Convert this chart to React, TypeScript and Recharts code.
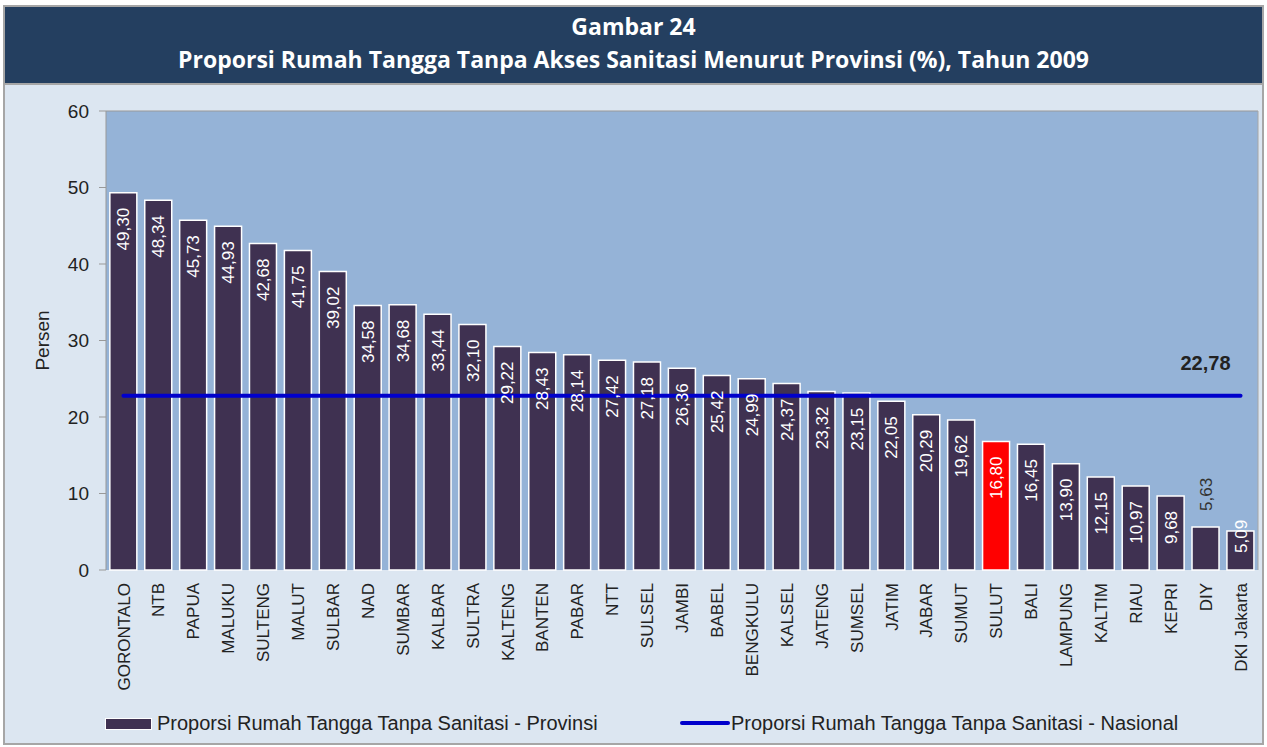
import React from 'react';
import {
  ComposedChart,
  Bar,
  Line,
  Cell,
  XAxis,
  YAxis,
  CartesianGrid,
  ReferenceLine,
  LabelList,
  Legend,
} from 'recharts';

const CATEGORIES = [
  'GORONTALO', 'NTB', 'PAPUA', 'MALUKU', 'SULTENG', 'MALUT', 'SULBAR', 'NAD', 'SUMBAR',
  'KALBAR', 'SULTRA', 'KALTENG', 'BANTEN', 'PABAR', 'NTT', 'SULSEL', 'JAMBI', 'BABEL',
  'BENGKULU', 'KALSEL', 'JATENG', 'SUMSEL', 'JATIM', 'JABAR', 'SUMUT', 'SULUT', 'BALI',
  'LAMPUNG', 'KALTIM', 'RIAU', 'KEPRI', 'DIY', 'DKI Jakarta',
];

const PROVINSI = [
  49.3, 48.34, 45.73, 44.93, 42.68, 41.75, 39.02, 34.58, 34.68,
  33.44, 32.1, 29.22, 28.43, 28.14, 27.42, 27.18, 26.36, 25.42,
  24.99, 24.37, 23.32, 23.15, 22.05, 20.29, 19.62, 16.8, 16.45,
  13.9, 12.15, 10.97, 9.68, 5.63, 5.09,
];

const NASIONAL = 22.78;
const HIGHLIGHT = 'SULUT';
const LABEL_ABOVE = 'DIY';
const Y_TICKS = [0, 10, 20, 30, 40, 50, 60];
const EDGE_TICKS = CATEGORIES.map((_, i) => i).concat(CATEGORIES.length);

const data = CATEGORIES.map((name, i) => ({
  name,
  provinsi: PROVINSI[i],
  nasional: NASIONAL,
}));

const FONT = '"Liberation Sans", Arial, sans-serif';
const BAR_COLOR = '#3F3151';
const LINE_COLOR = '#0000CC';
const AXIS_COLOR = '#999999';

const fmt = (v: number) => v.toFixed(2).replace('.', ',');

const CategoryTick = (props: any) => {
  const { x, y, payload } = props;
  return (
    <g transform={`translate(${x},${y})`}>
      <text
        transform="rotate(-90)"
        textAnchor="end"
        dy="0.36em"
        fontSize={17}
        fontFamily={FONT}
        fill="#222"
      >
        {payload.value}
      </text>
    </g>
  );
};

const ValueLabel = (props: any) => {
  const { x, y, width, height, value, index } = props;
  const text = fmt(Number(value));
  const cx = Number(x) + Number(width) / 2;
  const top = Number(y);
  const bottom = top + Number(height);
  const textLen = text.length * 9;

  if (CATEGORIES[index] === LABEL_ABOVE) {
    return (
      <g transform={`translate(${cx},${top - 16})`}>
        <text transform="rotate(-90)" textAnchor="start" dy="0.36em" fontSize={17} fontFamily={FONT} fill="#333">
          {text}
        </text>
      </g>
    );
  }
  // short bars: start the text from the base instead of the top
  const fits = top + 15 + textLen < bottom - 10;
  const anchorY = fits ? top + 15 : bottom - 17;
  return (
    <g transform={`translate(${cx},${anchorY})`}>
      <text
        transform="rotate(-90)"
        textAnchor={fits ? 'end' : 'start'}
        dy="0.36em"
        fontSize={17}
        fontFamily={FONT}
        fill="#fff"
      >
        {text}
      </text>
    </g>
  );
};

const NasionalLabel = (props: any) => {
  const { x, y, value, index } = props;
  if (index !== CATEGORIES.length - 1) return null;
  return (
    <text x={Number(x) - 10} y={Number(y) - 26} textAnchor="end" fontSize={20} fontWeight="bold" fontFamily={FONT} fill="#222">
      {fmt(Number(value))}
    </text>
  );
};

const LegendContent = () => (
  <div style={{ position: 'relative', height: 40, width: 1267, fontFamily: FONT, fontSize: 20, color: '#222' }}>
    <div style={{ position: 'absolute', left: 105, top: 17, width: 45, height: 10, background: BAR_COLOR, border: '1px solid #fff' }} />
    <div style={{ position: 'absolute', left: 157, top: 10, lineHeight: '24px', whiteSpace: 'nowrap' }}>
      Proporsi Rumah Tangga Tanpa Sanitasi - Provinsi
    </div>
    <div style={{ position: 'absolute', left: 680, top: 20, width: 50, height: 4, background: LINE_COLOR, borderRadius: 2 }} />
    <div style={{ position: 'absolute', left: 731, top: 10, lineHeight: '24px', whiteSpace: 'nowrap' }}>
      Proporsi Rumah Tangga Tanpa Sanitasi - Nasional
    </div>
  </div>
);

export default function App() {
  return (
    <div style={{ position: 'relative', width: 1267, height: 747, background: '#fff', overflow: 'hidden' }}>
      <style>{'body{margin:0}'}</style>
      <div
        style={{
          position: 'absolute', left: 3, top: 5, width: 1257, height: 736,
          border: '2px solid #A6A6A6', background: '#DCE6F1',
        }}
      />
      <div
        style={{
          position: 'absolute', left: 5, top: 7, width: 1257, height: 78,
          background: '#243F60', borderBottom: '2px solid #A6A6A6',
          color: '#fff', fontFamily: '"Open Sans", sans-serif', fontWeight: 700,
          fontSize: 23, lineHeight: '33px', textAlign: 'center', paddingTop: 3, boxSizing: 'border-box',
        }}
      >
        <div>Gambar 24</div>
        <div>Proporsi Rumah Tangga Tanpa Akses Sanitasi Menurut Provinsi (%), Tahun 2009</div>
      </div>
      <div style={{ position: 'absolute', left: 0, top: 0 }}>
        <ComposedChart
          width={1267}
          height={747}
          data={data}
          margin={{ top: 111, right: 8, bottom: 6, left: 46 }}
          barCategoryGap="11%"
        >
          <CartesianGrid fill="#95B3D7" horizontal={false} vertical={false} />
          <XAxis
            xAxisId="edges"
            type="number"
            domain={[0, CATEGORIES.length]}
            ticks={EDGE_TICKS}
            tick={false}
            tickSize={6}
            tickLine={{ stroke: AXIS_COLOR }}
            axisLine={{ stroke: AXIS_COLOR }}
            height={0}
            allowDataOverflow
          />
          <XAxis
            xAxisId="cat"
            dataKey="name"
            interval={0}
            tick={<CategoryTick />}
            tickLine={false}
            axisLine={false}
            tickSize={7}
            tickMargin={6}
            height={131}
          />
          <YAxis
            domain={[0, 60]}
            ticks={Y_TICKS}
            width={60}
            tick={{ fontSize: 19, fill: '#222', fontFamily: FONT }}
            tickSize={7}
            tickMargin={10}
            tickLine={{ stroke: AXIS_COLOR }}
            axisLine={{ stroke: AXIS_COLOR }}
            label={{ value: 'Persen', angle: -90, position: 'center', dx: -34, fontSize: 19, fill: '#222', fontFamily: FONT }}
          />
          <YAxis
            yAxisId="r"
            orientation="right"
            domain={[0, 60]}
            width={1}
            tick={false}
            tickLine={false}
            axisLine={{ stroke: '#A6A6A6' }}
          />
          <ReferenceLine y={60} stroke={AXIS_COLOR} />
          <Bar xAxisId="cat" dataKey="provinsi" fill={BAR_COLOR} stroke="#fff" strokeWidth={1.5} isAnimationActive={false}>
            {data.map((d) => (
              <Cell key={d.name} fill={d.name === HIGHLIGHT ? '#FF0000' : BAR_COLOR} />
            ))}
            <LabelList dataKey="provinsi" content={<ValueLabel />} />
          </Bar>
          <Line
            xAxisId="cat"
            dataKey="nasional"
            stroke={LINE_COLOR}
            strokeWidth={4}
            strokeLinecap="round"
            dot={false}
            activeDot={false}
            isAnimationActive={false}
          >
            <LabelList dataKey="nasional" content={<NasionalLabel />} />
          </Line>
          <Legend verticalAlign="bottom" content={<LegendContent />} wrapperStyle={{ left: 0, width: 1267 }} />
        </ComposedChart>
      </div>
    </div>
  );
}
